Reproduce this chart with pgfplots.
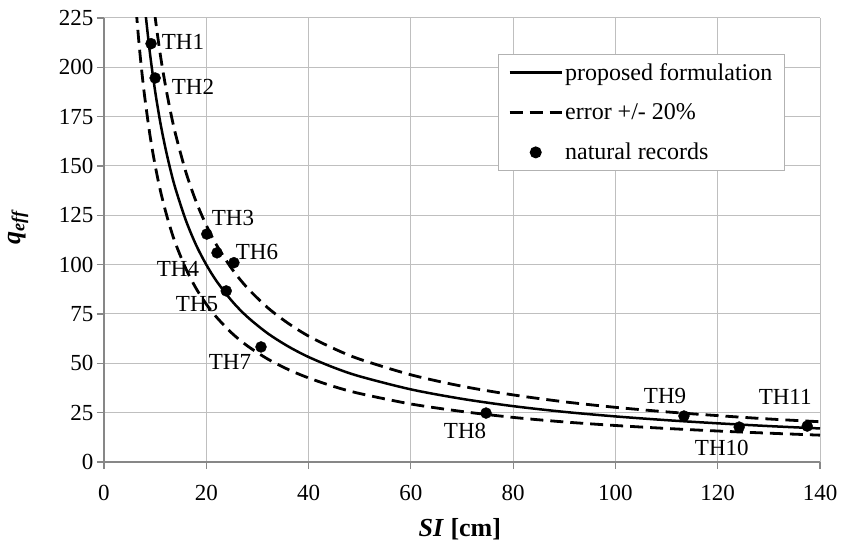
\documentclass[border=0pt]{standalone}
\usepackage{fontspec}
\setmainfont{Liberation Serif}
\usepackage{pgfplots}
\pgfplotsset{compat=1.18}
\usepackage{pgfplotstable}
\usetikzlibrary{calc}

% proposed curve and the +/-20% band
\pgfplotstableread{
si   q     up    lo
6    299.0 358.8 239.2
6.5  278.1 333.7 222.5
7    259.9 311.9 207.9
7.5  244.1 292.9 195.3
8    230.2 276.2 184.2
9    206.8 248.2 165.4
10   187.9 225.5 150.3
11   172.2 206.6 137.8
12   159.2 191.0 127.4
13   148.0 177.6 118.4
14   138.3 166.0 110.6
16   122.5 147.0 98.0
18   110.0 132.0 88.0
20   100.0 120.0 80.0
22   91.7  110.0 73.4
25   81.6  97.9  65.3
28   73.6  88.3  58.9
32   65.2  78.2  52.2
36   58.6  70.3  46.9
40   53.2  63.8  42.6
45   47.8  57.4  38.2
50   43.4  52.1  34.7
60   36.8  44.2  29.4
70   32.0  38.4  25.6
80   28.3  34.0  22.6
90   25.4  30.5  20.3
100  23.1  27.7  18.5
110  21.2  25.4  17.0
120  19.6  23.5  15.7
130  18.2  21.8  14.6
140  17.0  20.4  13.6
}\curves

% natural records TH1..TH11
\pgfplotstableread{
si    q
9.2   212.0
10.0  194.6
20.1  115.5
22.1  106.0
23.9  86.7
25.4  101.0
30.7  58.3
74.7  24.8
113.4 23.3
124.2 17.7
137.5 18.2
}\records

\begin{document}
\begin{tikzpicture}
\begin{axis}[
  scale only axis,
  width=716pt, height=444pt,
  xmin=0, xmax=140, ymin=0, ymax=225,
  xtick distance=20, ytick distance=25,
  grid=major,
  major grid style={draw=black!25, line width=1pt},
  axis lines=left,
  axis line style={draw=black!47, line width=1.2pt, -},
  tick style={draw=black!47, line width=1.2pt},
  tick align=outside, major tick length=7pt,
  ticklabel style={font=\fontsize{23}{27}\selectfont},
  xticklabel style={yshift=-13pt},
  /pgf/number format/assume math mode=true,
  xlabel={\textbf{\textit{SI} [cm]}},
  ylabel={\textbf{\textit{q}\textsubscript{\textit{eff}}}},
  xlabel style={font=\fontsize{26}{30}\selectfont, at={(axis description cs:0.497,-0.152)}, anchor=center},
  ylabel style={font=\fontsize{26}{30}\selectfont, at={(axis description cs:-0.12,0.53)}, anchor=center},
  legend style={at={(0.951,0.919)}, anchor=north east, draw=black!30, line width=1pt,
    font=\fontsize{24}{28}\selectfont, row sep=18pt, inner xsep=10pt, inner ysep=7pt,
    cells={anchor=west}},
  legend image code/.code={\draw[mark repeat=2,mark phase=2,#1] plot coordinates {(0pt,0pt) (26pt,0pt) (52pt,0pt)};},
  label style={black},
  clip=true,
]
\addplot[black, line width=2.5pt, smooth] table[x=si, y=q] {\curves};
\addlegendentry{proposed formulation}
\addplot[black, line width=2.8pt, dash pattern=on 13pt off 7pt, smooth] table[x=si, y=up] {\curves};
\addlegendentry{error +/- 20\%}
\addplot[black, line width=2.8pt, dash pattern=on 13pt off 7pt, smooth, forget plot] table[x=si, y=lo] {\curves};
\addplot[only marks, mark=*, mark size=5.5pt, black] table[x=si, y=q] {\records};
\addlegendentry{natural records}

\begin{scope}[every node/.style={font=\fontsize{23}{27}\selectfont, inner sep=0pt, anchor=center}]
\node at (axis cs:15.45,212.9) {TH1};
\node at (axis cs:17.40,190.1) {TH2};
\node at (axis cs:25.22,123.7) {TH3};
\node at (axis cs:14.47,97.8) {TH4};
\node at (axis cs:18.19,80.1) {TH5};
\node at (axis cs:29.92,106.4) {TH6};
\node at (axis cs:24.64,50.7) {TH7};
\node at (axis cs:70.6,15.7) {TH8};
\node at (axis cs:109.7,33.5) {TH9};
\node at (axis cs:120.8,7.1) {TH10};
\node at (axis cs:133.2,32.9) {TH11};
\end{scope}
\coordinate (sw) at (rel axis cs:0,0);
\coordinate (ne) at (rel axis cs:1,1);
\end{axis}
\path ($(sw)+(-104pt,-81pt)$) rectangle ($(ne)+(22pt,18pt)$);
\end{tikzpicture}
\end{document}
